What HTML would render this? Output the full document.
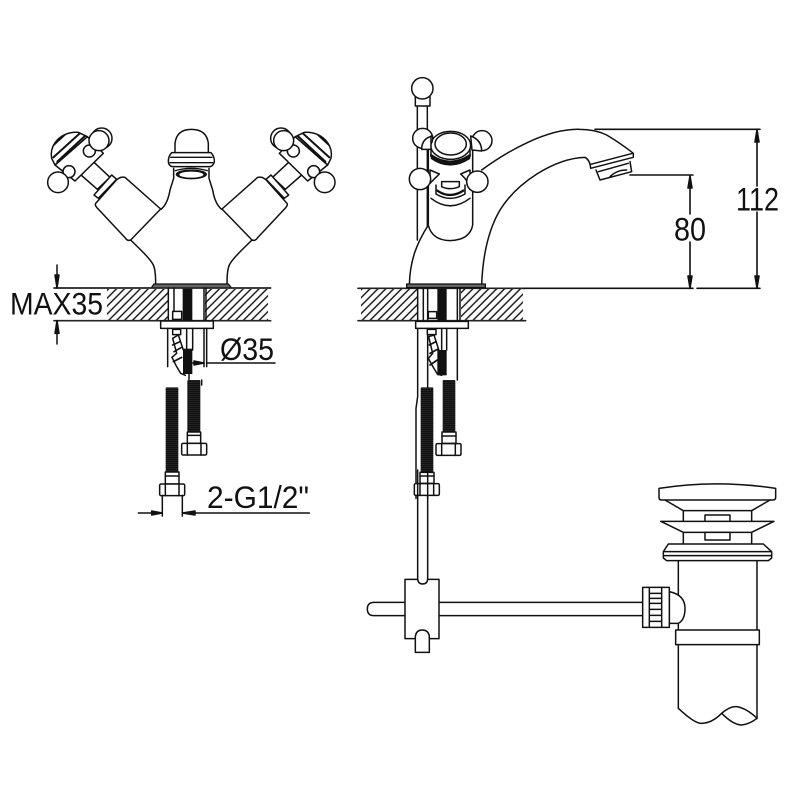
<!DOCTYPE html>
<html><head><meta charset="utf-8">
<style>html,body{margin:0;padding:0;background:#fff}svg{display:block}
text{font-family:"Liberation Sans",sans-serif;fill:#111;stroke:none}</style></head>
<body>
<svg width="800" height="800" viewBox="0 0 800 800" xmlns="http://www.w3.org/2000/svg">
<defs>
<pattern id="h" width="5.6" height="5.6" patternUnits="userSpaceOnUse" patternTransform="rotate(45)"><line x1="1" y1="0" x2="1" y2="5.6" stroke="#111" stroke-width="1.4"/></pattern>
<pattern id="th" width="12" height="6" patternUnits="userSpaceOnUse"><rect width="12" height="6" fill="#111"/><rect y="0" width="12" height="1" fill="#444"/></pattern>
<clipPath id="domeclip"><path d="M165,195L155,175Q150,150 165,128Q190,95 235,97L262,110Z"/></clipPath>
<g id="handle">
<path d="M243,225L292,268L330,232L280,185Z" fill="#fff"/>
<path d="M282,285L335,225L350,238L295,295Z" fill="#fff"/>
<path d="M287,310L345,245Q358,228 375,232L482,327L392,420Q382,424 376,414L290,322Q284,316 287,310Z" fill="#fff"/>
<path d="M165,195L262,110L310,160L225,243Z" fill="#fff"/>
<path d="M165,195L155,175Q150,150 165,128Q190,95 235,97L262,110Z" fill="#fff"/>
<path d="M150,145L215,85M160,172L245,95M172,185L258,105" stroke-width="6" clip-path="url(#domeclip)"/>
<circle cx="268" cy="153" r="18" fill="#fff"/><circle cx="207" cy="215" r="18" fill="#fff"/>
<circle cx="305" cy="115" r="31" fill="#fff"/><circle cx="297" cy="122" r="30" fill="#fff"/>
<circle cx="174" cy="247" r="31" fill="#fff"/>
</g>
<g id="nut">
<rect x="0" y="0" width="75" height="35" rx="4" fill="#fff"/>
<path d="M17,0V35M58,0V35" />
</g>
</defs>

<g fill="none" stroke="#111" stroke-linecap="round" stroke-linejoin="round">

<!-- hatching -->
<rect x="107" y="289" width="61" height="31" fill="url(#h)" stroke="none"/>
<rect x="205" y="289" width="63" height="31" fill="url(#h)" stroke="none"/>
<rect x="361" y="289" width="57" height="31" fill="url(#h)" stroke="none"/>
<rect x="461" y="289" width="62" height="31" fill="url(#h)" stroke="none"/>

<!-- LEFT TAP -->
<g transform="translate(0,100) scale(.33333)" stroke-width="4.5">
<path d="M392,420C420,448 450,475 460,495Q467,510 467,552M756,420C728,448 698,475 688,495Q681,510 681,552" />
<path d="M483,328Q503,312 510,270L521,235V205M665,328Q645,312 638,270L627,235V205"/>
<path d="M525,160V130Q530,88 574,88Q620,88 625,130V160" fill="#fff"/>
<ellipse cx="574" cy="223" rx="47" ry="15" fill="#111" stroke="none"/>
<ellipse cx="574" cy="224" rx="36" ry="9" fill="#fff" stroke="none"/>
<path d="M526,212Q574,198 622,212" stroke-width="4"/>
<path d="M515,158H633Q644,170 643,185Q640,198 630,200H518Q506,198 505,185Q505,168 515,158Z" fill="#fff"/>
<path d="M512,172H636M510,188H638" stroke-width="4"/>
<use href="#handle"/>
<use href="#handle" transform="translate(1148,0) scale(-1,1)"/>
<path d="M455,562L462,552H685L693,562" fill="#666" stroke-width="4"/>
</g>

<!-- LEFT BELOW COUNTER -->
<g transform="translate(0,270) scale(.33333)" stroke-width="4.5">
<path d="M162,54H812M162,152H812" stroke="#222" stroke-width="5"/>
<path d="M505,54V152M522,54V152M612,54V152M618,54V152"/>
<rect x="548" y="56" width="29" height="96" fill="#111" stroke="none"/>
<rect x="518" y="124" width="27" height="24" fill="#fff"/>
<rect x="482" y="153" width="158" height="22" fill="#fff"/>
<path d="M503,175V290M612,175V290M620,175V290M560,175V240M578,175V240"/>
<rect x="518" y="178" width="24" height="16" fill="#fff"/>
<path d="M518,205L535,195L550,240M516,262L530,290L542,310L556,316"/>
<path d="M518,205L530,250L516,262"/>
<path d="M518,225L540,215M522,245L545,232M520,275L545,262" stroke-width="5"/>
<rect x="549" y="236" width="28" height="76" fill="#111" stroke="none"/>
<path d="M567,312V328M605,330V345"/>
<rect x="562" y="330" width="39" height="155" fill="url(#th)" stroke="none" rx="3"/>
<rect x="497" y="352" width="38" height="254" fill="url(#th)" stroke="none" rx="3"/>
<rect x="562" y="486" width="40" height="34" fill="#fff"/>
<path d="M562,496H602"/>
<use href="#nut" x="545" y="520"/>
<rect x="496" y="606" width="41" height="36" fill="#fff"/>
<path d="M496,618H537"/>
<use href="#nut" x="479" y="642"/>
<path d="M487,676V738M547,676V738M415,729H455M585,729H928" />
<path d="M487,729L455,723V735ZM547,729L585,723V735Z" fill="#111"/>
<path d="M622,279H825M578,279H612"/>
<path d="M612,279L582,273V285Z" fill="#111"/>
<path d="M171,222V152M171,-15V54"/>
<path d="M171,152L165,190H177ZM171,54L165,15H177Z" fill="#111"/>
</g>

<text x="10" y="314.5" font-size="31.5" textLength="93" lengthAdjust="spacingAndGlyphs">MAX35</text>
<text x="220" y="360" font-size="31.5" textLength="54" lengthAdjust="spacingAndGlyphs">Ø35</text>
<text x="207" y="508" font-size="31.5" textLength="102" lengthAdjust="spacingAndGlyphs">2-G1/2"</text>

<!-- RIGHT TAP -->
<g transform="translate(350,70) scale(.33333)" stroke-width="4.5">
<path d="M202,108V510M232,108V470"/>
<rect x="196" y="80" width="44" height="28" fill="#fff"/>
<circle cx="217" cy="55" r="32" fill="#fff"/>
<path d="M395,300C470,245 590,175 690,178Q735,178 770,195Q815,222 850,250L850,262L722,295Q720,270 705,262C610,265 500,340 450,420C415,480 398,560 395,645" fill="#fff"/>
<path d="M178,645C180,570 200,520 235,465" fill="#fff"/>
<path d="M722,283L848,250M738,300L750,330L845,305L840,275M745,305L835,280M780,320Q800,300 830,300"/>
<path d="M235,240V465Q245,510 300,512Q360,510 368,465V240" fill="#fff"/>
<path d="M243,385Q300,430 360,385" />
<path d="M258,345V372Q300,398 345,372V345" fill="#fff"/>
<path d="M262,362Q300,388 340,362" stroke-width="7"/>
<path d="M275,335V350Q300,362 328,350V335Z" fill="#fff"/>
<path d="M240,300L268,312L258,322L240,340Z" fill="#fff"/>
<path d="M360,300L332,312L342,322L360,345Z" fill="#fff"/>
<path d="M243,232V260Q300,300 360,260V232" fill="#fff"/>
<path d="M243,255Q300,295 360,255M245,265Q300,303 358,265" stroke-width="6"/>
<ellipse cx="302" cy="226" rx="60" ry="42" fill="#fff"/>
<ellipse cx="302" cy="222" rx="47" ry="33" fill="#fff"/>
<circle cx="218" cy="205" r="30" fill="#fff"/>
<path d="M248,198Q215,205 215,238H243V198Z" fill="#fff"/>
<circle cx="396" cy="212" r="30" fill="#fff"/>
<path d="M362,198Q395,210 395,243L366,240Z" fill="#fff"/>
<circle cx="210" cy="327" r="32" fill="#fff"/>
<circle cx="382" cy="335" r="32" fill="#fff"/>
</g>
<g transform="translate(350,280) scale(.33333)" stroke-width="4.5">
<path d="M24,25H525M24,122H527" stroke="#222" stroke-width="5"/>
<rect x="170" y="12" width="236" height="11" fill="#666" stroke-width="4"/>
<path d="M203,25V122M220,25V122M233,25V122M322,25V122M330,25V122"/>
<rect x="262" y="27" width="28" height="95" fill="#111" stroke="none"/>
<rect x="235" y="95" width="25" height="20" fill="#fff"/>
<rect x="197" y="124" width="158" height="21" fill="#fff"/>
<path d="M203,145V350L198,385V655M233,145V655M322,145V300M275,145V210M290,145V210"/>
<rect x="232" y="148" width="26" height="16" fill="#fff"/>
<path d="M236,170L252,165L268,215M236,170L248,220L235,235L250,262L262,282L275,286"/>
<path d="M238,195L258,185M240,220L262,208M240,255L262,240" stroke-width="5"/>
<rect x="262" y="210" width="28" height="76" fill="#111" stroke="none"/>
<rect x="278" y="300" width="38" height="155" fill="url(#th)" stroke="none" rx="3"/>
<rect x="212" y="322" width="38" height="255" fill="url(#th)" stroke="none" rx="3"/>
<rect x="276" y="456" width="42" height="34" fill="#fff"/>
<path d="M276,468H318"/>
<use href="#nut" x="258" y="491"/>
<rect x="210" y="577" width="42" height="33" fill="#fff"/>
<path d="M210,588H252"/>
<use href="#nut" x="193" y="611"/>
</g>

<!-- DIMENSIONS -->
<g stroke-width="1.6">
<path d="M595,129.3H760M630,175H693M523,288.3H693M697,288.3H760"/>
<path d="M757,130V186M757,212V288M690,176V214M690,242V288" />
<path d="M757,130L755,142H759ZM757,288L755,276H759ZM690,176L688,188H692ZM690,288L688,276H692Z" fill="#111"/>
</g>
<text x="736" y="210.5" font-size="32" textLength="43" lengthAdjust="spacingAndGlyphs">112</text>
<text x="674" y="240.5" font-size="32" textLength="32" lengthAdjust="spacingAndGlyphs">80</text>

<!-- DRAIN -->
<g transform="translate(350,470) scale(.33333)" stroke-width="4.5">
<path d="M203,0V330Q205,342 218,342Q232,342 233,330V0"/>
<path d="M165,397H72Q52,397 52,417Q52,437 72,437H165M267,397H880M267,437H880"/>
<path d="M165,328H203Q205,342 218,342Q232,342 233,328H267V506H238V500Q236,480 217,480Q198,480 196,500V506H165Z" fill="#fff"/>
<path d="M196,506V547H238V506"/>
<path d="M985,270V480M1221,270V480M985,524V715M1221,524V745"/>
<path d="M958,365Q1005,375 1005,415Q1005,450 985,460H958Z" fill="#fff"/>
<path d="M878,352H958V472H878Z" fill="#fff"/>
<path d="M898,352V472M935,352V472M898,370H935M898,385H935M898,400H935M898,418H935M898,436H935M898,454H935"/>
<rect x="977" y="480" width="251" height="44" fill="#fff"/>
<path d="M985,715Q1035,762 1055,760Q1085,760 1115,730Q1140,708 1160,710Q1190,715 1221,745"/>
<path d="M1115,730Q1150,765 1175,765Q1200,762 1221,745"/>
<path d="M1000,122V155M1205,122V155M1000,187V222M1205,187V222"/>
<path d="M927,55Q1100,28 1277,55V82Q1277,90 1268,90H935Q927,90 927,82Z" fill="#fff"/>
<path d="M945,90L1000,122H1205L1260,90"/>
<rect x="1065" y="135" width="75" height="20" fill="#fff"/>
<path d="M932,154H1272L1205,187H1000Z" fill="#fff"/>
<rect x="1065" y="187" width="75" height="23" fill="#fff"/>
<path d="M955,222H1240L1265,245V264L1255,272H950L940,264V245Z" fill="#fff"/>
<path d="M942,245H1263M942,257H1263"/>
</g>
</g>
</svg>
</body></html>
